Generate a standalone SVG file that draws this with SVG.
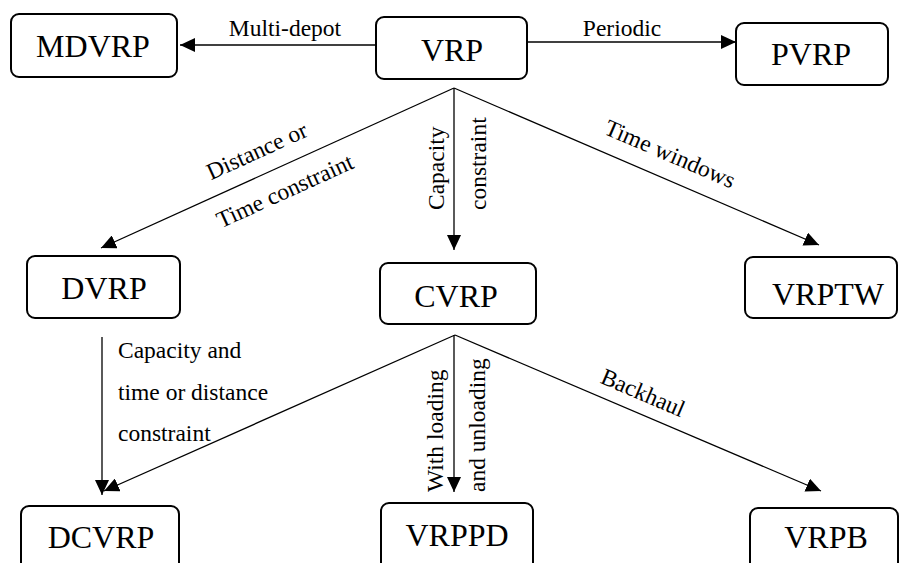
<svg xmlns="http://www.w3.org/2000/svg" width="901" height="563" viewBox="0 0 901 563">
  <style>
    .box { fill: #fff; stroke: #000; stroke-width: 2; }
    .name { font-family: "Liberation Serif", "Times New Roman", serif; font-size: 32px; fill: #000; text-anchor: middle; }
    .lbl { font-family: "Liberation Serif", "Times New Roman", serif; font-size: 23.5px; fill: #000; }
    .edge { stroke: #000; stroke-width: 1.3; fill: none; marker-end: url(#head); }
  </style>
  <defs>
    <marker id="head" markerUnits="userSpaceOnUse" markerWidth="16" markerHeight="14" refX="15" refY="7" orient="auto">
      <path d="M0,0 L15,7 L0,14 z" fill="#000"/>
    </marker>
  </defs>
  <rect width="901" height="563" fill="#fff"/>

  <!-- connectors -->
  <g id="connectors">
    <line class="edge" x1="376" y1="45" x2="180" y2="45"/>
    <line class="edge" x1="528" y1="42" x2="736" y2="42"/>
    <line class="edge" x1="454" y1="88" x2="101" y2="248"/>
    <line class="edge" x1="454" y1="88" x2="454" y2="250"/>
    <line class="edge" x1="454" y1="88" x2="819" y2="245"/>
    <line class="edge" x1="102" y1="337" x2="102" y2="495"/>
    <line class="edge" x1="455" y1="335" x2="104" y2="491"/>
    <line class="edge" x1="454" y1="335" x2="454" y2="492"/>
    <line class="edge" x1="455" y1="335" x2="821" y2="491"/>

    <!-- edge labels -->
    <text class="lbl" x="285" y="36" text-anchor="middle">Multi-depot</text>
    <text class="lbl" x="622" y="36" text-anchor="middle">Periodic</text>
    <text class="lbl" text-anchor="middle" transform="translate(260,158) rotate(-24.4)">Distance or</text>
    <text class="lbl" text-anchor="middle" transform="translate(288,198) rotate(-24.4)">Time constraint</text>
    <text class="lbl" transform="translate(444,210) rotate(-90)">Capacity</text>
    <text class="lbl" transform="translate(486,210) rotate(-90)">constraint</text>
    <text class="lbl" text-anchor="middle" transform="translate(667,161) rotate(23.3)">Time windows</text>
    <text class="lbl" x="118" y="358">Capacity and</text>
    <text class="lbl" x="118" y="399.5">time or distance</text>
    <text class="lbl" x="118" y="441">constraint</text>
    <text class="lbl" transform="translate(443,492) rotate(-90)">With loading</text>
    <text class="lbl" transform="translate(485,492) rotate(-90)">and unloading</text>
    <text class="lbl" text-anchor="middle" transform="translate(640,400) rotate(23.1)">Backhaul</text>
  </g>

  <!-- nodes -->
  <g id="MDVRP">
    <rect class="box" x="11" y="14" width="166" height="63" rx="8"/>
    <text class="name" x="93" y="57">MDVRP</text>
  </g>
  <g id="VRP">
    <rect class="box" x="376" y="17" width="151" height="62" rx="8"/>
    <text class="name" x="452" y="61">VRP</text>
  </g>
  <g id="PVRP">
    <rect class="box" x="736" y="23" width="152" height="62" rx="8"/>
    <text class="name" x="811" y="65">PVRP</text>
  </g>
  <g id="DVRP">
    <rect class="box" x="27" y="256" width="153" height="62" rx="8"/>
    <text class="name" x="104" y="299">DVRP</text>
  </g>
  <g id="CVRP">
    <rect class="box" x="380" y="263" width="156" height="61" rx="8"/>
    <text class="name" x="456" y="307">CVRP</text>
  </g>
  <g id="VRPTW">
    <rect class="box" x="745" y="257" width="152" height="61" rx="8"/>
    <text class="name" x="828" y="305">VRPTW</text>
  </g>
  <g id="DCVRP">
    <rect class="box" x="21" y="506" width="158" height="70" rx="8"/>
    <text class="name" x="101" y="548">DCVRP</text>
  </g>
  <g id="VRPPD">
    <rect class="box" x="381" y="503" width="152" height="70" rx="8"/>
    <text class="name" x="457" y="546">VRPPD</text>
  </g>
  <g id="VRPB">
    <rect class="box" x="750" y="508" width="148" height="70" rx="8"/>
    <text class="name" x="826" y="548">VRPB</text>
  </g>
</svg>
